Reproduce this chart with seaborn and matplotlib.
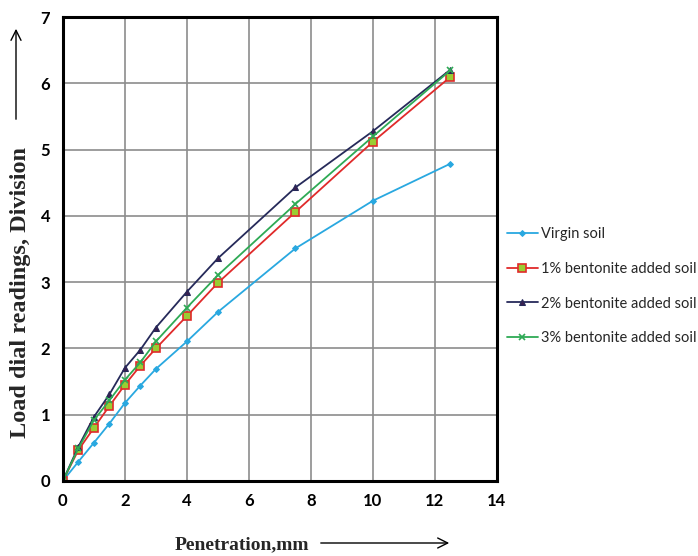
import numpy as np
import pandas as pd
import matplotlib
matplotlib.use("Agg")
import matplotlib.pyplot as plt
import seaborn as sns

penetration = [0, 0.5, 1, 1.5, 2, 2.5, 3, 4, 5, 7.5, 10, 12.5]
virgin = [0, 0.29, 0.575, 0.865, 1.175, 1.44, 1.69, 2.105, 2.55, 3.51, 4.23, 4.79]
bent1 = [0, 0.465, 0.80, 1.13, 1.45, 1.74, 2.0, 2.49, 2.99, 4.06, 5.12, 6.10]
bent2 = [0, 0.515, 0.965, 1.305, 1.705, 1.98, 2.315, 2.855, 3.36, 4.43, 5.28, 6.21]
bent3 = [0, 0.49, 0.915, 1.215, 1.525, 1.79, 2.105, 2.615, 3.105, 4.18, 5.20, 6.20]
series_names = ["Virgin soil", "1% bentonite added soil",
                "2% bentonite added soil", "3% bentonite added soil"]
x_ticks = [0, 2, 4, 6, 8, 10, 12, 14]
y_ticks = [0, 1, 2, 3, 4, 5, 6, 7]

sns.set_theme(style="white")
plt.rcParams['font.family'] = ['Lato', 'DejaVu Sans']

df = pd.DataFrame({
    "Penetration": penetration * 4,
    "Load": virgin + bent1 + bent2 + bent3,
    "Series": sum([[n] * len(penetration) for n in series_names], []),
})

colors = ["#29a8e0", "#e02a2a", "#262a5a", "#2eaa55"]
fig = plt.figure(figsize=(6.98, 5.56), dpi=100)
ax = fig.add_axes([0.090, 0.135, 0.622, 0.834])

styles = [
    dict(marker="D", ms=3, mfc="#29a8e0", mec="#29a8e0"),
    dict(marker="s", ms=5.5, mfc="#9acd32", mec="#e02a2a", mew=1.2),
    dict(marker="^", ms=5, mfc="#3a2050", mec="#262a5a"),
    dict(marker="x", ms=5, mfc="#2eaa55", mec="#2eaa55", mew=1.2),
]
for name, c, st in zip(series_names, colors, styles):
    sub = df[df["Series"] == name]
    sns.lineplot(data=sub, x="Penetration", y="Load", ax=ax, color=c,
                 lw=1.3, label=name, **st)

ax.set_xlim(0, 14)
ax.set_ylim(0, 7)
ax.set_xticks(x_ticks)
ax.set_yticks(y_ticks)
ax.grid(True, color="#8c8c8c", lw=1.2)
for s in ax.spines.values():
    s.set_color("black")
    s.set_linewidth(2.2)
ax.tick_params(axis="both", direction="out", length=5, width=1, colors="black",
               labelsize=12, pad=4)
for lab in ax.get_xticklabels() + ax.get_yticklabels():
    lab.set_fontweight("bold")
ax.set_xlabel("")
ax.set_ylabel("")

leg = ax.legend(loc="upper left", bbox_to_anchor=(1.01, 0.56), frameon=False,
                fontsize=10.5, handlelength=2.1, labelspacing=1.42,
                handletextpad=0.25, borderaxespad=0)

fig.text(242 / 698, 1 - 545 / 556, "Penetration,mm", family="Liberation Serif",
         fontweight="bold", fontsize=14, ha="center", va="center")
fig.add_artist(matplotlib.patches.FancyArrowPatch(
    (318 / 698, 1 - 543 / 556), (452 / 698, 1 - 543 / 556),
    transform=fig.transFigure, arrowstyle="->", mutation_scale=18, lw=1, color="black"))
fig.text(21 / 698, 1 - 292 / 556, "Load dial readings, Division", family="Liberation Serif",
         fontweight="bold", fontsize=17.5, ha="center", va="center", rotation=90)
fig.add_artist(matplotlib.patches.FancyArrowPatch(
    (16 / 698, 1 - 122 / 556), (16 / 698, 1 - 26 / 556),
    transform=fig.transFigure, arrowstyle="->", mutation_scale=18, lw=1, color="black"))

fig.savefig("out.png", dpi=100)
